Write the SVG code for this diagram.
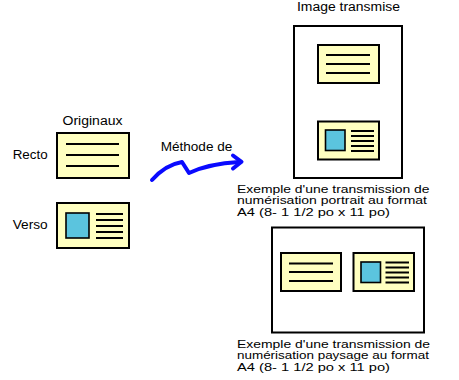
<svg xmlns="http://www.w3.org/2000/svg" width="459" height="380" viewBox="0 0 459 380">
<style>
text{font-family:"Liberation Sans",Arial,sans-serif;font-size:12px;fill:#000}
.cap{font-size:11px}
.card{fill:#ffffc0;stroke:#000;stroke-width:2}
.page{fill:#fff;stroke:#000;stroke-width:2}
.ln{stroke:#000;stroke-width:2;fill:none}
.pic{fill:#5bc4de;stroke:#000;stroke-width:1.6}
.arrow{fill:none;stroke:#0a0aff;stroke-width:4;stroke-linecap:round;stroke-linejoin:round}
</style>
<rect width="459" height="380" fill="#fff"/>
<g id="labels">
<text x="297" y="10.5" textLength="103" lengthAdjust="spacingAndGlyphs">Image transmise</text>
<text x="62.5" y="125" textLength="60" lengthAdjust="spacingAndGlyphs">Originaux</text>
<text x="12.7" y="159" textLength="35" lengthAdjust="spacingAndGlyphs">Recto</text>
<text x="12.7" y="229" textLength="35" lengthAdjust="spacingAndGlyphs">Verso</text>
<text x="160.7" y="151" textLength="71.6" lengthAdjust="spacingAndGlyphs">Méthode de</text>
</g>
<g id="original-recto">
<rect class="card" x="57" y="133" width="72" height="45"/>
<path class="ln" d="M66,144H119M66,155H119M66,166H119"/>
</g>
<g id="original-verso">
<rect class="card" x="57" y="203" width="72" height="45"/>
<rect class="pic" x="66" y="213" width="23" height="25"/>
<path class="ln" d="M96,214H123M96,220H123M96,226H123M96,232H123M96,238H123"/>
</g>
<g id="portrait-page">
<rect class="page" x="294" y="26" width="108" height="152"/>
<g id="portrait-recto">
<rect class="card" x="318" y="45" width="61" height="38"/>
<path class="ln" d="M326,55H370M326,64H370M326,73H370"/>
</g>
<g id="portrait-verso">
<rect class="card" x="318" y="121.5" width="61" height="38"/>
<rect class="pic" x="325.5" y="130" width="19.5" height="20.5"/>
<path class="ln" d="M351,131H374M351,136H374M351,141H374M351,146H374M351,151H374"/>
</g>
</g>
<g id="portrait-caption" class="cap">
<text class="cap" x="237" y="192.5" textLength="192.5" lengthAdjust="spacingAndGlyphs">Exemple d'une transmission de</text>
<text class="cap" x="237" y="204.2" textLength="190" lengthAdjust="spacingAndGlyphs">numérisation portrait au format</text>
<text class="cap" x="237" y="215.9" textLength="153" lengthAdjust="spacingAndGlyphs">A4 (8- 1 1/2 po x 11 po)</text>
</g>
<g id="landscape-page">
<rect class="page" x="272" y="227.5" width="152" height="105"/>
<g id="landscape-recto">
<rect class="card" x="281" y="253" width="60" height="38"/>
<path class="ln" d="M289,263.5H333M289,272H333M289,281H333"/>
</g>
<g id="landscape-verso">
<rect class="card" x="353.5" y="253" width="60.5" height="38"/>
<rect class="pic" x="361" y="262" width="19.5" height="20.5"/>
<path class="ln" d="M385.5,262.5H409M385.5,267.5H409M385.5,272.5H409M385.5,277.5H409M385.5,282.5H409"/>
</g>
</g>
<g id="landscape-caption">
<text class="cap" x="237" y="347.5" textLength="193" lengthAdjust="spacingAndGlyphs">Exemple d'une transmission de</text>
<text class="cap" x="237" y="359.2" textLength="192" lengthAdjust="spacingAndGlyphs">numérisation paysage au format</text>
<text class="cap" x="237" y="370.9" textLength="153" lengthAdjust="spacingAndGlyphs">A4 (8- 1 1/2 po x 11 po)</text>
</g>
<g id="connectors">
<path class="arrow" d="M152,180 C160,171 170,164 182,162 L189,173 C204,166 220,163 239,162"/>
<path class="arrow" d="M233,155.5 L241.5,161.8 L233,168.5"/>
</g>
</svg>
